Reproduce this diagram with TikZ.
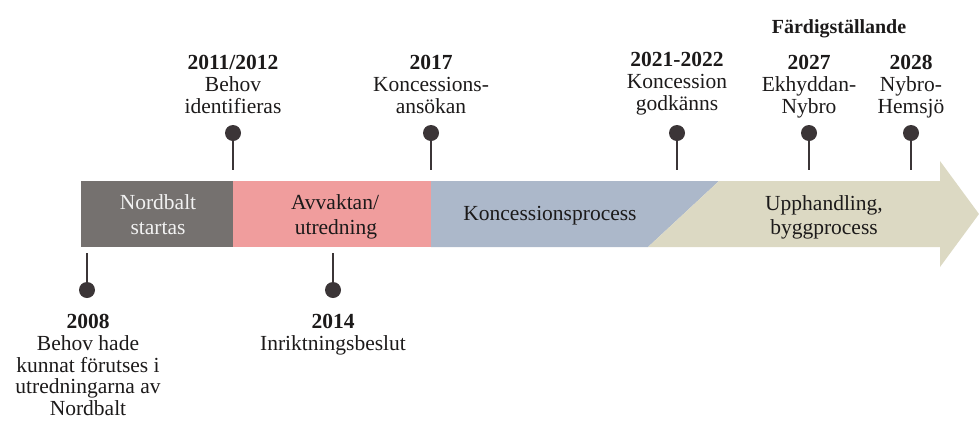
\documentclass[tikz,border=0pt]{standalone}
\usepackage{fontspec}
\setmainfont{Liberation Serif}
\definecolor{cgray}{HTML}{75716F}
\definecolor{cpink}{HTML}{F09D9D}
\definecolor{cblue}{HTML}{ACB8CA}
\definecolor{cbeige}{HTML}{DCD9C3}
\definecolor{cdot}{HTML}{3B3537}
\definecolor{ctext}{HTML}{1C1A1A}
\definecolor{clight}{HTML}{F2F2F2}
\tikzset{
  lb/.style={anchor=base, inner sep=0pt, text=ctext, font=\fontsize{21.5}{22}\selectfont},
  yr/.style={lb, font=\fontsize{21.5}{22}\selectfont\bfseries},
  head/.style={lb, font=\fontsize{20}{22}\selectfont\bfseries},
  barlb/.style={lb},
  barlw/.style={lb, text=clight},
  dot/.style={circle, fill=cdot, minimum size=16pt, inner sep=0pt, outer sep=0pt},
  tick/.style={draw=cdot, line width=1.5pt},
}
\begin{document}
\begin{tikzpicture}[x=1pt,y=-1pt]
\path[use as bounding box] (0,0) rectangle (979,421);
% bar segments
\fill[cgray] (81,181) rectangle (233,247);
\fill[cpink] (233,181) rectangle (431,247);
\fill[cblue] (431,181) -- (719,181) -- (648,247) -- (431,247) -- cycle;
\fill[cbeige] (648,247) -- (719,181) -- (940,181) -- (940,161) -- (979,214) -- (940,267) -- (940,247) -- cycle;
% bar texts
\node[barlw] (nb1) at (158,209) {Nordbalt};
\node[barlw] (nb2) at (158,234) {startas};
\node[barlb] (av1) at (335,209) {Avvaktan/};
\node[barlb] (av2) at (336,234) {utredning};
\node[barlb] (kp) at (550,220) {Koncessionsprocess};
\node[barlb] (up1) at (824,210) {Upphandling,};
\node[barlb] (up2) at (824,234) {byggprocess};
% top events
\node[dot] (d2011) at (233,133) {};
\node[dot] (d2017) at (431,133) {};
\node[dot] (d2021) at (677,133) {};
\node[dot] (d2027) at (809,133) {};
\node[dot] (d2028) at (911,133) {};
\coordinate (e2011) at (233,170);
\coordinate (e2017) at (431,170);
\coordinate (e2021) at (677,170);
\coordinate (e2027) at (809,170);
\coordinate (e2028) at (911,170);
\draw[tick] (d2011) -- (e2011);
\draw[tick] (d2017) -- (e2017);
\draw[tick] (d2021) -- (e2021);
\draw[tick] (d2027) -- (e2027);
\draw[tick] (d2028) -- (e2028);
% bottom events
\node[dot] (d2008) at (87,290) {};
\node[dot] (d2014) at (333,290) {};
\coordinate (e2008) at (87,253);
\coordinate (e2014) at (333,253);
\draw[tick] (d2008) -- (e2008);
\draw[tick] (d2014) -- (e2014);
% labels top
\node[yr] (y2011) at (233,69) {2011/2012};
\node[lb] (t2011a) at (233,91) {Behov};
\node[lb] (t2011b) at (233,113) {identifieras};
\node[yr] (y2017) at (431,69) {2017};
\node[lb] (t2017a) at (431,91) {Koncessions-};
\node[lb] (t2017b) at (431,113) {ansökan};
\node[yr] (y2021) at (677,66) {2021-2022};
\node[lb] (t2021a) at (677,88) {Koncession};
\node[lb] (t2021b) at (677,110) {godkänns};
\node[head] (fard) at (839,33) {Färdigställande};
\node[yr] (y2027) at (809,69) {2027};
\node[lb] (t2027a) at (809,91) {Ekhyddan-};
\node[lb] (t2027b) at (809,113) {Nybro};
\node[yr] (y2028) at (911,69) {2028};
\node[lb] (t2028a) at (911,91) {Nybro-};
\node[lb] (t2028b) at (911,113) {Hemsjö};
% labels bottom
\node[yr] (y2008) at (88,328) {2008};
\node[lb] (t2008a) at (88,350) {Behov hade};
\node[lb] (t2008b) at (88,372) {kunnat förutses i};
\node[lb] (t2008c) at (88,393) {utredningarna av};
\node[lb] (t2008d) at (88,415) {Nordbalt};
\node[yr] (y2014) at (333,328) {2014};
\node[lb] (t2014a) at (333,350) {Inriktningsbeslut};
\end{tikzpicture}
\end{document}
